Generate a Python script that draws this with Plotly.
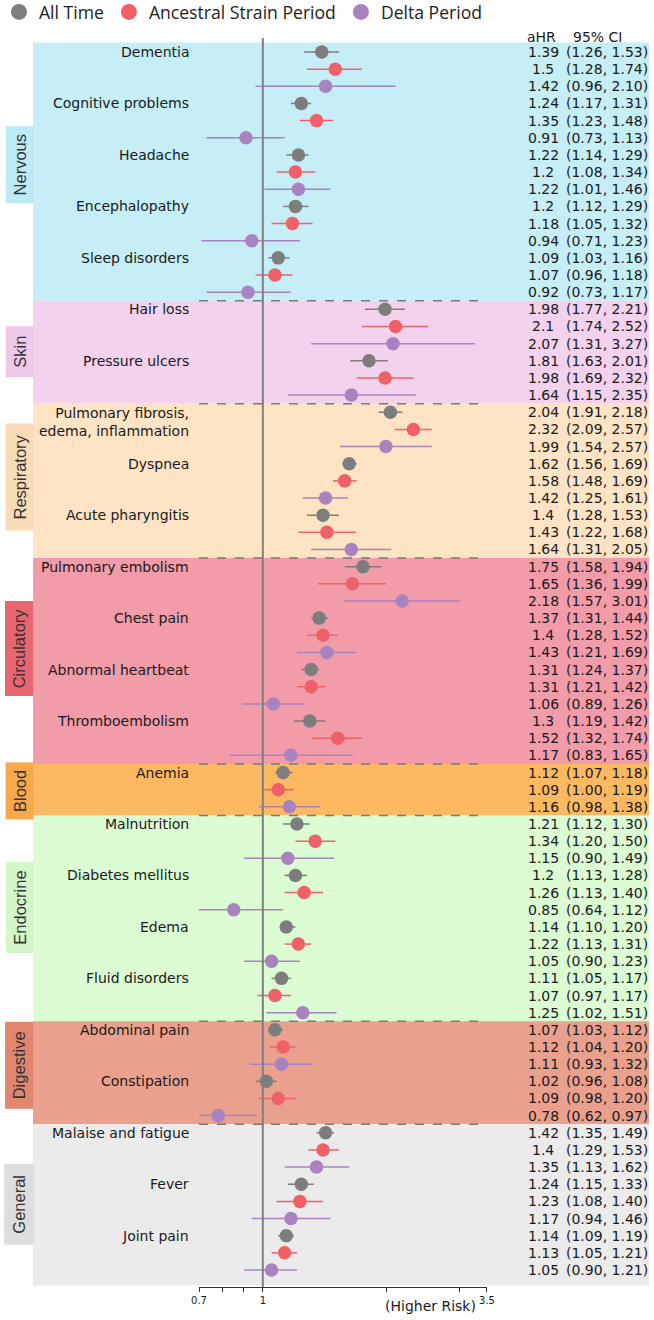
import plotly.graph_objects as go

# ---------------- data ----------------
categories = ["Nervous", "Skin", "Respiratory", "Circulatory", "Blood",
              "Endocrine", "Digestive", "General"]
conditions_per_category = [5, 2, 3, 4, 1, 4, 2, 3]

conditions = [
    "Dementia", "Cognitive problems", "Headache", "Encephalopathy", "Sleep disorders",
    "Hair loss", "Pressure ulcers",
    "Pulmonary fibrosis,<br>edema, inflammation", "Dyspnea", "Acute pharyngitis",
    "Pulmonary embolism", "Chest pain", "Abnormal heartbeat", "Thromboembolism",
    "Anemia",
    "Malnutrition", "Diabetes mellitus", "Edema", "Fluid disorders",
    "Abdominal pain", "Constipation",
    "Malaise and fatigue", "Fever", "Joint pain",
]

all_time_hr = [1.39, 1.24, 1.22, 1.20, 1.09, 1.98, 1.81, 2.04, 1.62, 1.40, 1.75, 1.37,
               1.31, 1.30, 1.12, 1.21, 1.20, 1.14, 1.11, 1.07, 1.02, 1.42, 1.24, 1.14]
all_time_lo = [1.26, 1.17, 1.14, 1.12, 1.03, 1.77, 1.63, 1.91, 1.56, 1.28, 1.58, 1.31,
               1.24, 1.19, 1.07, 1.12, 1.13, 1.10, 1.05, 1.03, 0.96, 1.35, 1.15, 1.09]
all_time_hi = [1.53, 1.31, 1.29, 1.29, 1.16, 2.21, 2.01, 2.18, 1.69, 1.53, 1.94, 1.44,
               1.37, 1.42, 1.18, 1.30, 1.28, 1.20, 1.17, 1.12, 1.08, 1.49, 1.33, 1.19]

ancestral_hr = [1.50, 1.35, 1.20, 1.18, 1.07, 2.10, 1.98, 2.32, 1.58, 1.43, 1.65, 1.40,
                1.31, 1.52, 1.09, 1.34, 1.26, 1.22, 1.07, 1.12, 1.09, 1.40, 1.23, 1.13]
ancestral_lo = [1.28, 1.23, 1.08, 1.05, 0.96, 1.74, 1.69, 2.09, 1.48, 1.22, 1.36, 1.28,
                1.21, 1.32, 1.00, 1.20, 1.13, 1.13, 0.97, 1.04, 0.98, 1.29, 1.08, 1.05]
ancestral_hi = [1.74, 1.48, 1.34, 1.32, 1.18, 2.52, 2.32, 2.57, 1.69, 1.68, 1.99, 1.52,
                1.42, 1.74, 1.19, 1.50, 1.40, 1.31, 1.17, 1.20, 1.20, 1.53, 1.40, 1.21]

delta_hr = [1.42, 0.91, 1.22, 0.94, 0.92, 2.07, 1.64, 1.99, 1.42, 1.64, 2.18, 1.43,
            1.06, 1.17, 1.16, 1.15, 0.85, 1.05, 1.25, 1.11, 0.78, 1.35, 1.17, 1.05]
delta_lo = [0.96, 0.73, 1.01, 0.71, 0.73, 1.31, 1.15, 1.54, 1.25, 1.31, 1.57, 1.21,
            0.89, 0.83, 0.98, 0.90, 0.64, 0.90, 1.02, 0.93, 0.62, 1.13, 0.94, 0.90]
delta_hi = [2.10, 1.13, 1.46, 1.23, 1.17, 3.27, 2.35, 2.57, 1.61, 2.05, 3.01, 1.69,
            1.26, 1.65, 1.38, 1.49, 1.12, 1.23, 1.51, 1.32, 0.97, 1.62, 1.46, 1.21]

series_names = ["All Time", "Ancestral Strain Period", "Delta Period"]
x_tick_vals = [0.7, 0.8, 0.9, 1, 2, 3, 3.5]
x_tick_text = ["0.7", "", "", "1", "", "", "3.5"]

# ---------------- style ----------------
series_colors = ["#7d7d7d", "#ef6068", "#a883bf"]
band_colors = ["#c6eef6", "#f3d2ee", "#fee3c4", "#f29ba9", "#fdb961",
               "#dcfcd4", "#e9a18d", "#ebebeb"]
box_colors = ["#bdeaf4", "#efc8ea", "#fcdcb8", "#e9656f", "#f9a94b",
              "#d4f7ca", "#e0866f", "#dddddd"]
box_center_rows = [6.6, 17.5, 24.8, 34.8, 43.1, 49.9, 59.1, 67.2]
box_lengths = [76, 50, 106, 94, 56, 90, 86, 80]

W, H = 654, 1320
L, R, T, B = 199, 167, 38, 33
PW = W - L - R
PH = H - T - B


def px_to_paper_x(px):
    return (px - L) / PW


def px_to_paper_y(py):
    return ((H - B) - py) / PH


FONT_TXT = "DejaVu Sans"
TXT_COLOR = "#1a1a1a"
series = [
    (all_time_hr, all_time_lo, all_time_hi),
    (ancestral_hr, ancestral_lo, ancestral_hi),
    (delta_hr, delta_lo, delta_hi),
]
n_cond = len(conditions)
n_rows = 3 * n_cond

fig = go.Figure()

for k, (hr, lo, hi) in enumerate(series):
    rows = [3 * i + k for i in range(n_cond)]
    fig.add_trace(go.Scatter(
        x=hr, y=rows, mode="markers", showlegend=False,
        marker=dict(size=13.5, color=series_colors[k]),
        error_x=dict(type="data", symmetric=False,
                     array=[h - v for h, v in zip(hi, hr)],
                     arrayminus=[v - l for v, l in zip(hr, lo)],
                     color=series_colors[k], thickness=1.5, width=0),
        hoverinfo="x+y", name=series_names[k],
    ))
    # legend-only entry
    fig.add_trace(go.Scatter(
        x=[None], y=[None], mode="markers", name=series_names[k],
        marker=dict(size=16, color=series_colors[k]), showlegend=True,
    ))

shapes = []
annotations = []

# category bands, separators, side labels
start = 0
for c, cnt in enumerate(conditions_per_category):
    r0 = 3 * start - 0.5
    r1 = 3 * (start + cnt) - 0.5
    y0 = -0.55 if c == 0 else r0
    y1 = n_rows - 0.1 if c == len(categories) - 1 else r1
    shapes.append(dict(type="rect", xref="paper", yref="y",
                       x0=px_to_paper_x(33), x1=px_to_paper_x(649), y0=y0, y1=y1,
                       fillcolor=band_colors[c], line=dict(width=0), layer="below"))
    if c > 0:
        shapes.append(dict(type="line", xref="x", yref="y", x0=0.7, x1=3.5, y0=r0, y1=r0,
                           line=dict(color="#7a7a7a", width=1.5, dash="dash"), layer="below"))
    annotations.append(dict(
        xref="paper", yref="y", x=px_to_paper_x(19.5), y=box_center_rows[c],
        xanchor="center", yanchor="middle",
        text=categories[c], showarrow=False, textangle=-90,
        width=box_lengths[c], height=27 if c != 7 else 29,
        bgcolor=box_colors[c], borderpad=0, align="center", valign="middle",
        font=dict(family="Liberation Sans", size=16.5, color="#333333"),
    ))
    start += cnt

# condition labels
for i, name in enumerate(conditions):
    yrow = 3 * i + (0.55 if "<br>" in name else 0)
    annotations.append(dict(
        xref="paper", yref="y", x=px_to_paper_x(191), y=yrow, xanchor="right",
        yanchor="middle", text=name, showarrow=False, align="right",
        font=dict(family=FONT_TXT, size=14, color=TXT_COLOR),
    ))

# right-hand columns
for k, (hr, lo, hi) in enumerate(series):
    for i in range(n_cond):
        row = 3 * i + k
        annotations.append(dict(
            xref="paper", yref="y", x=px_to_paper_x(543), y=row,
            xanchor="center", yanchor="middle",
            text=f"{hr[i]:g}", showarrow=False,
            font=dict(family=FONT_TXT, size=14, color=TXT_COLOR)))
        annotations.append(dict(
            xref="paper", yref="y", x=px_to_paper_x(607), y=row,
            xanchor="center", yanchor="middle",
            text=f"({lo[i]:.2f}, {hi[i]:.2f})", showarrow=False,
            font=dict(family=FONT_TXT, size=14, color=TXT_COLOR)))

header_items = [("aHR", 541, 37), ("95% CI", 597, 37), ("(Higher Risk)", 430, 1306)]
for txt, px, py in header_items:
    annotations.append(dict(xref="paper", yref="paper", x=px_to_paper_x(px),
                            y=px_to_paper_y(py), xanchor="center", yanchor="middle",
                            text=txt, showarrow=False,
                            font=dict(family=FONT_TXT, size=14, color=TXT_COLOR)))

# reference line at 1
shapes.append(dict(type="line", xref="x", yref="paper", x0=1, x1=1, y0=0, y1=1,
                   line=dict(color="#7f7f7f", width=2), layer="above"))

row_px = 17.155
y_top = -(52 - T) / row_px
y_bot = (n_rows - 1) + ((H - B) - 1270) / row_px

fig.update_layout(
    width=W, height=H,
    margin=dict(l=L, r=R, t=T, b=B, autoexpand=False),
    paper_bgcolor="white", plot_bgcolor="rgba(0,0,0,0)",
    shapes=shapes, annotations=annotations,
    xaxis=dict(type="log", range=[-0.1549, 0.5441], tickvals=x_tick_vals,
               ticktext=x_tick_text, ticks="outside", ticklen=4, tickwidth=1,
               tickcolor="#333", showline=True, linecolor="#333", linewidth=1,
               showgrid=False, zeroline=False, automargin=False,
               tickfont=dict(family=FONT_TXT, size=10, color=TXT_COLOR)),
    yaxis=dict(range=[y_bot, y_top], visible=False, showgrid=False, zeroline=False,
               automargin=False),
    legend=dict(orientation="h", x=px_to_paper_x(-1), y=px_to_paper_y(12),
                xanchor="left", yanchor="middle", bgcolor="rgba(0,0,0,0)",
                font=dict(family="Open Sans", size=17.6, color="#222"),
                itemsizing="trace", traceorder="normal"),
    showlegend=True,
)

fig.write_html("out.html", config={"displayModeBar": False},
               post_script="document.body.style.margin='0px';"
                           "document.body.style.padding='0px';")
